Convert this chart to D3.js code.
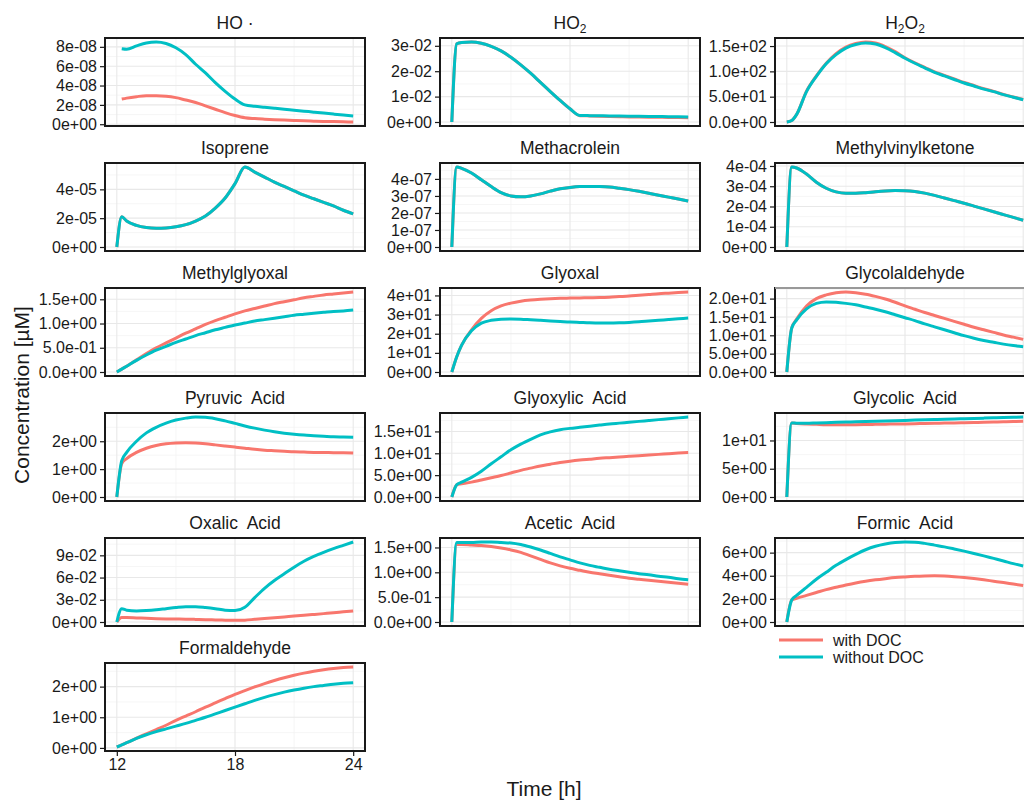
<!DOCTYPE html>
<html>
<head>
<meta charset="utf-8">
<script src="https://cdn.jsdelivr.net/npm/d3@7"></script>
<style>
  body { margin: 0; background: #fff; }
  text { font-family: "Liberation Sans", Arial, Helvetica, sans-serif; white-space: pre; }
</style>
</head>
<body>
<svg id="chart" width="1024" height="802"></svg>
<script>
// time grid [h]
const times = [12, 12.25, 12.5, 13, 13.5, 14, 14.5, 15, 15.5, 16, 16.5, 17, 17.5, 18, 18.5, 19, 19.5, 20, 20.5, 21, 21.5, 22, 22.5, 23, 23.5, 24];
const xTicks = [12, 18, 24];
const seriesNames = ["with DOC", "without DOC"];
const seriesColors = ["#F8766D", "#00BFC4"];

// values (in units of the "unit" factor of each species)
const hoWith       = [null, 2.6, 2.7, 2.85, 2.95, 2.95, 2.9, 2.75, 2.5, 2.25, 1.9, 1.55, 1.2, 0.9, 0.67, 0.58, 0.52, 0.47, 0.43, 0.39, 0.35, 0.32, 0.29, 0.27, 0.25, 0.23];
const hoWithout    = [null, 7.8, 7.75, 8.1, 8.4, 8.5, 8.35, 7.9, 7.2, 6.2, 5.3, 4.3, 3.4, 2.6, 2.0, 1.85, 1.75, 1.65, 1.55, 1.45, 1.35, 1.25, 1.15, 1.05, 0.95, 0.85];
const ho2With      = [0, 3.08, 3.13, 3.15, 3.1, 2.98, 2.8, 2.55, 2.25, 1.92, 1.56, 1.2, 0.85, 0.52, 0.25, 0.24, 0.23, 0.22, 0.21, 0.2, 0.195, 0.19, 0.185, 0.18, 0.175, 0.17];
const ho2Without   = [0, 3.08, 3.13, 3.15, 3.1, 2.98, 2.8, 2.55, 2.25, 1.92, 1.56, 1.2, 0.85, 0.52, 0.26, 0.25, 0.245, 0.24, 0.235, 0.23, 0.225, 0.22, 0.215, 0.21, 0.205, 0.2];
const h2o2With     = [0, 3, 15, 61, 91, 116, 135, 148, 155, 158, 156, 149, 139, 127, 117, 108, 99, 92, 85, 78, 72, 66, 60.5, 54.5, 49.5, 44.5];
const h2o2Without  = [0, 3, 15, 60, 90, 115, 133, 146, 153, 156, 154, 147, 137, 126, 116, 107, 98, 91, 84, 77, 71, 65, 60, 54, 49, 44];
const isopWith     = [0, 2.1, 1.8, 1.5, 1.35, 1.3, 1.32, 1.4, 1.55, 1.8, 2.15, 2.7, 3.4, 4.4, 5.55, 5.2, 4.85, 4.5, 4.2, 3.9, 3.6, 3.35, 3.1, 2.85, 2.55, 2.3];
const isopWithout  = [0, 2.1, 1.8, 1.5, 1.35, 1.3, 1.32, 1.4, 1.55, 1.8, 2.15, 2.7, 3.4, 4.4, 5.55, 5.2, 4.85, 4.5, 4.2, 3.9, 3.6, 3.35, 3.1, 2.85, 2.55, 2.3];
const macrWith     = [0, 4.7, 4.62, 4.35, 3.95, 3.55, 3.2, 3.0, 2.95, 3.0, 3.12, 3.28, 3.42, 3.5, 3.55, 3.56, 3.55, 3.52, 3.45, 3.37, 3.27, 3.16, 3.04, 2.93, 2.82, 2.7];
const macrWithout  = [0, 4.7, 4.62, 4.35, 3.95, 3.55, 3.2, 3.0, 2.95, 3.0, 3.12, 3.28, 3.42, 3.5, 3.55, 3.56, 3.55, 3.52, 3.45, 3.37, 3.27, 3.16, 3.04, 2.93, 2.82, 2.7];
const mvkWith      = [0, 3.95, 3.9, 3.6, 3.2, 2.9, 2.72, 2.65, 2.65, 2.68, 2.73, 2.77, 2.79, 2.78, 2.74, 2.66, 2.55, 2.42, 2.29, 2.16, 2.02, 1.88, 1.74, 1.6, 1.46, 1.32];
const mvkWithout   = [0, 3.95, 3.9, 3.6, 3.2, 2.9, 2.72, 2.65, 2.65, 2.68, 2.73, 2.77, 2.79, 2.78, 2.74, 2.66, 2.55, 2.42, 2.29, 2.16, 2.02, 1.88, 1.74, 1.6, 1.46, 1.32];
const mglyWith     = [0, 0.06, 0.12, 0.25, 0.38, 0.5, 0.6, 0.7, 0.8, 0.89, 0.98, 1.06, 1.13, 1.2, 1.26, 1.31, 1.36, 1.41, 1.45, 1.49, 1.53, 1.56, 1.59, 1.61, 1.63, 1.65];
const mglyWithout  = [0, 0.06, 0.12, 0.24, 0.35, 0.45, 0.53, 0.61, 0.68, 0.75, 0.81, 0.87, 0.92, 0.97, 1.01, 1.05, 1.08, 1.11, 1.14, 1.17, 1.19, 1.21, 1.23, 1.25, 1.26, 1.28];
const glyxWith     = [0, 8, 14, 22, 28, 32, 34.5, 36, 37, 37.6, 38, 38.3, 38.5, 38.6, 38.7, 38.8, 38.9, 39.1, 39.4, 39.7, 40.1, 40.5, 40.9, 41.2, 41.5, 41.8];
const glyxWithout  = [0, 8, 14, 21.5, 25.5, 27, 27.6, 27.7, 27.6, 27.3, 27.0, 26.7, 26.4, 26.1, 25.9, 25.7, 25.6, 25.6, 25.7, 25.9, 26.2, 26.6, 27.0, 27.4, 27.8, 28.2];
const glyaWith     = [0, 12.0, 14.4, 18.0, 20.0, 21.0, 21.6, 21.8, 21.6, 21.2, 20.6, 19.9, 19.0, 18.0, 17.1, 16.2, 15.4, 14.6, 13.8, 13.0, 12.2, 11.5, 10.8, 10.1, 9.5, 8.9];
const glyaWithout  = [0, 12.0, 14.2, 17.2, 18.7, 19.1, 19.0, 18.7, 18.3, 17.7, 17.1, 16.4, 15.6, 14.8, 14.0, 13.1, 12.3, 11.5, 10.7, 9.9, 9.2, 8.6, 8.1, 7.6, 7.2, 6.9];
const pyruWith     = [0, 1.2, 1.38, 1.6, 1.75, 1.85, 1.91, 1.94, 1.95, 1.94, 1.91, 1.87, 1.83, 1.79, 1.75, 1.71, 1.68, 1.66, 1.64, 1.62, 1.61, 1.6, 1.6, 1.59, 1.59, 1.58];
const pyruWithout  = [0, 1.3, 1.6, 2.0, 2.3, 2.5, 2.65, 2.76, 2.83, 2.87, 2.86, 2.81, 2.73, 2.64, 2.55, 2.47, 2.4, 2.34, 2.29, 2.25, 2.22, 2.2, 2.18, 2.16, 2.15, 2.14];
const gxylWith     = [0, 2.8, 3.0, 3.4, 3.9, 4.4, 4.9, 5.5, 6.1, 6.6, 7.1, 7.5, 7.9, 8.2, 8.45, 8.65, 8.85, 9.0, 9.15, 9.3, 9.45, 9.6, 9.75, 9.9, 10.05, 10.2];
const gxylWithout  = [0, 2.8, 3.4, 4.5, 5.9, 7.6, 9.2, 10.8, 12.1, 13.2, 14.2, 14.9, 15.4, 15.7, 15.95, 16.2, 16.45, 16.7, 16.9, 17.1, 17.3, 17.5, 17.7, 17.9, 18.1, 18.3];
const gcolWith     = [0, 13.1, 13.0, 12.9, 12.85, 12.8, 12.8, 12.8, 12.8, 12.82, 12.85, 12.88, 12.9, 12.93, 12.96, 13.0, 13.03, 13.07, 13.1, 13.14, 13.18, 13.22, 13.26, 13.3, 13.35, 13.4];
const gcolWithout  = [0, 13.1, 13.05, 13.05, 13.1, 13.15, 13.2, 13.25, 13.3, 13.35, 13.4, 13.45, 13.5, 13.55, 13.6, 13.65, 13.7, 13.75, 13.8, 13.85, 13.9, 13.95, 14.0, 14.05, 14.1, 14.15];
const oxalWith     = [0, 0.6, 0.6, 0.55, 0.5, 0.45, 0.42, 0.4, 0.38, 0.35, 0.32, 0.28, 0.25, 0.22, 0.25, 0.36, 0.47, 0.58, 0.69, 0.8, 0.91, 1.02, 1.13, 1.24, 1.37, 1.5];
const oxalWithout  = [0, 1.8, 1.6, 1.5, 1.55, 1.65, 1.8, 1.95, 2.05, 2.05, 1.95, 1.8, 1.6, 1.55, 2.0, 3.3, 4.55, 5.6, 6.5, 7.4, 8.2, 8.85, 9.4, 9.9, 10.35, 10.8];
const acetWith     = [0, 1.56, 1.56, 1.55, 1.54, 1.52, 1.49, 1.45, 1.4, 1.33, 1.26, 1.19, 1.13, 1.08, 1.04, 1.0, 0.97, 0.94, 0.91, 0.88, 0.86, 0.84, 0.82, 0.8, 0.78, 0.76];
const acetWithout  = [0, 1.6, 1.6, 1.6, 1.61, 1.61, 1.6, 1.59, 1.56, 1.51, 1.45, 1.38, 1.31, 1.25, 1.19, 1.14, 1.1, 1.06, 1.03, 1.0, 0.97, 0.95, 0.92, 0.9, 0.87, 0.85];
const formWith     = [0, 1.9, 2.05, 2.3, 2.55, 2.8, 3.0, 3.2, 3.38, 3.53, 3.65, 3.75, 3.84, 3.9, 3.95, 3.98, 3.99, 3.97, 3.92, 3.85, 3.76, 3.65, 3.53, 3.41, 3.28, 3.15];
const formWithout  = [0, 1.9, 2.3, 3.0, 3.7, 4.3, 4.9, 5.4, 5.85, 6.25, 6.55, 6.75, 6.88, 6.92, 6.9, 6.8, 6.65, 6.5, 6.32, 6.13, 5.93, 5.72, 5.5, 5.28, 5.05, 4.85];
const hchoWith     = [0.03, 0.1, 0.17, 0.32, 0.46, 0.6, 0.74, 0.9, 1.04, 1.18, 1.33, 1.47, 1.61, 1.75, 1.87, 1.99, 2.1, 2.2, 2.29, 2.37, 2.44, 2.5, 2.55, 2.59, 2.62, 2.64];
const hchoWithout  = [0.03, 0.1, 0.17, 0.31, 0.43, 0.53, 0.62, 0.71, 0.8, 0.9, 1.0, 1.11, 1.22, 1.33, 1.44, 1.55, 1.65, 1.74, 1.82, 1.89, 1.95, 2.0, 2.04, 2.08, 2.11, 2.13];

// y tick labels of each panel
const hoTicks   = ["0e+00", "2e-08", "4e-08", "6e-08", "8e-08"];
const ho2Ticks  = ["0e+00", "1e-02", "2e-02", "3e-02"];
const h2o2Ticks = ["0.0e+00", "5.0e+01", "1.0e+02", "1.5e+02"];
const isopTicks = ["0e+00", "2e-05", "4e-05"];
const macrTicks = ["0e+00", "1e-07", "2e-07", "3e-07", "4e-07"];
const mvkTicks  = ["0e+00", "1e-04", "2e-04", "3e-04", "4e-04"];
const mglyTicks = ["0.0e+00", "5.0e-01", "1.0e+00", "1.5e+00"];
const glyxTicks = ["0e+00", "1e+01", "2e+01", "3e+01", "4e+01"];
const glyaTicks = ["0.0e+00", "5.0e+00", "1.0e+01", "1.5e+01", "2.0e+01"];
const pyruTicks = ["0e+00", "1e+00", "2e+00"];
const gxylTicks = ["0.0e+00", "5.0e+00", "1.0e+01", "1.5e+01"];
const gcolTicks = ["0e+00", "5e+00", "1e+01"];
const oxalTicks = ["0e+00", "3e-02", "6e-02", "9e-02"];
const acetTicks = ["0.0e+00", "5.0e-01", "1.0e+00", "1.5e+00"];
const formTicks = ["0e+00", "2e+00", "4e+00", "6e+00"];
const hchoTicks = ["0e+00", "1e+00", "2e+00"];

// facet table ("_2" marks a subscript)
const species = [
    { title: "HO ·",              unit: 1e-8, w: hoWith,   wo: hoWithout,   ticks: hoTicks },
    { title: "HO_2",              unit: 1e-2, w: ho2With,  wo: ho2Without,  ticks: ho2Ticks },
    { title: "H_2O_2",            unit: 1,    w: h2o2With, wo: h2o2Without, ticks: h2o2Ticks },
    { title: "Isoprene",          unit: 1e-5, w: isopWith, wo: isopWithout, ticks: isopTicks },
    { title: "Methacrolein",      unit: 1e-7, w: macrWith, wo: macrWithout, ticks: macrTicks },
    { title: "Methylvinylketone", unit: 1e-4, w: mvkWith,  wo: mvkWithout,  ticks: mvkTicks },
    { title: "Methylglyoxal",     unit: 1,    w: mglyWith, wo: mglyWithout, ticks: mglyTicks },
    { title: "Glyoxal",           unit: 1,    w: glyxWith, wo: glyxWithout, ticks: glyxTicks },
    { title: "Glycolaldehyde",    unit: 1,    w: glyaWith, wo: glyaWithout, ticks: glyaTicks },
    { title: "Pyruvic  Acid",     unit: 1,    w: pyruWith, wo: pyruWithout, ticks: pyruTicks },
    { title: "Glyoxylic  Acid",   unit: 1,    w: gxylWith, wo: gxylWithout, ticks: gxylTicks },
    { title: "Glycolic  Acid",    unit: 1,    w: gcolWith, wo: gcolWithout, ticks: gcolTicks },
    { title: "Oxalic  Acid",      unit: 1e-2, w: oxalWith, wo: oxalWithout, ticks: oxalTicks },
    { title: "Acetic  Acid",      unit: 1,    w: acetWith, wo: acetWithout, ticks: acetTicks },
    { title: "Formic  Acid",      unit: 1,    w: formWith, wo: formWithout, ticks: formTicks },
    { title: "Formaldehyde",      unit: 1,    w: hchoWith, wo: hchoWithout, ticks: hchoTicks }
];

// layout
const colLeft = [105, 440, 775];
const rowTop = [38, 163, 288, 413, 538, 663];
const pw = 260, ph = 88;
const ink = "#1a1a1a";

const svg = d3.select("#chart");

const x = d3.scaleLinear().domain([11.4, 24.6]).range([0, pw]);

const line = d3.line()
    .defined(d => d.v != null)
    .x(d => x(d.t))
    .y(d => d.y)
    .curve(d3.curveMonotoneX);

species.forEach((sp, i) => {
    const col = i % 3, row = Math.floor(i / 3);
    const g = svg.append("g").attr("transform", `translate(${colLeft[col]},${rowTop[row]})`);

    const seriesVals = [sp.w, sp.wo].map(arr => arr.map((v, k) => ({ t: times[k], v: v == null ? null : v * sp.unit })));
    const all = seriesVals.flat().filter(d => d.v != null).map(d => d.v);
    const lo = d3.min(all), hi = d3.max(all), pad = (hi - lo) * 0.05;
    const y = d3.scaleLinear().domain([lo - pad, hi + pad]).range([ph, 0]);

    const major = sp.ticks.map(s => +s);
    const step = major[1] - major[0];
    const minor = [];
    for (let k = -1; k < major.length; k++) {
        const m = major[0] + (k + 0.5) * step;
        if (m >= y.domain()[0] && m <= y.domain()[1]) minor.push(m);
    }

    // grid
    g.append("rect").attr("width", pw).attr("height", ph).attr("fill", "#fff");
    g.selectAll(".ymin").data(minor).enter().append("line")
        .attr("x1", 0).attr("x2", pw).attr("y1", d => y(d)).attr("y2", d => y(d))
        .attr("stroke", "#f4f4f4").attr("stroke-width", 0.8);
    g.selectAll(".xmin").data([15, 21]).enter().append("line")
        .attr("y1", 0).attr("y2", ph).attr("x1", d => x(d)).attr("x2", d => x(d))
        .attr("stroke", "#f4f4f4").attr("stroke-width", 0.8);
    g.selectAll(".ymaj").data(major).enter().append("line")
        .attr("x1", 0).attr("x2", pw).attr("y1", d => y(d)).attr("y2", d => y(d))
        .attr("stroke", "#e8e8e8").attr("stroke-width", 1.1);
    g.selectAll(".xmaj").data(xTicks).enter().append("line")
        .attr("y1", 0).attr("y2", ph).attr("x1", d => x(d)).attr("x2", d => x(d))
        .attr("stroke", "#e8e8e8").attr("stroke-width", 1.1);

    // lines
    seriesVals.forEach((vals, s) => {
        g.append("path")
            .datum(vals.map(d => ({ t: d.t, v: d.v, y: d.v == null ? 0 : y(d.v) })))
            .attr("d", line)
            .attr("fill", "none")
            .attr("stroke", seriesColors[s])
            .attr("stroke-width", 3)
            .attr("stroke-linejoin", "round");
    });

    // border
    g.append("rect").attr("width", pw).attr("height", ph)
        .attr("fill", "none").attr("stroke", ink).attr("stroke-width", 2);
    if (sp.title === "Glycolaldehyde") {
        g.append("line").attr("x1", 0).attr("x2", pw).attr("y1", 0).attr("y2", 0)
            .attr("stroke", "#999").attr("stroke-width", 2);
    }

    // y axis
    const yAxis = g.append("g").call(d3.axisLeft(y).tickValues(major).tickSize(5).tickPadding(3).tickFormat((d, k) => sp.ticks[k]));
    yAxis.select(".domain").remove();
    yAxis.selectAll("line").attr("stroke", ink).attr("stroke-width", 1.2);
    yAxis.selectAll("text").attr("fill", ink).style("font-size", "16px")
        .style("font-family", '"Liberation Sans", Arial, sans-serif');

    // bottom axis only for the last panel of the first column
    if (i === species.length - 1) {
        const xAxis = g.append("g").attr("transform", `translate(0,${ph})`)
            .call(d3.axisBottom(x).tickValues(xTicks).tickSize(5).tickPadding(3));
        xAxis.select(".domain").remove();
        xAxis.selectAll("line").attr("stroke", ink).attr("stroke-width", 1.2);
        xAxis.selectAll("text").attr("fill", ink).style("font-size", "16px")
            .style("font-family", '"Liberation Sans", Arial, sans-serif');
    }

    // strip title, with subscripts
    const title = g.append("text").attr("x", pw / 2).attr("y", -9)
        .attr("text-anchor", "middle").attr("fill", ink).style("font-size", "17.5px");
    sp.title.split(/_(\d)/).forEach((part, k) => {
        if (!part) return;
        const ts = title.append("tspan").text(part);
        if (k % 2 === 1) ts.attr("baseline-shift", "-4").style("font-size", "12px");
    });
});

// axis titles
svg.append("text").attr("x", colLeft[1] + pw / 2 - 26).attr("y", 796)
    .attr("text-anchor", "middle").attr("fill", ink).style("font-size", "21px").text("Time [h]");
svg.append("text").attr("transform", "translate(29,395) rotate(-90)")
    .attr("text-anchor", "middle").attr("fill", ink).style("font-size", "21px").text("Concentration [\u00b5M]");

// legend
const legend = svg.append("g").attr("transform", `translate(${colLeft[2] + 4},640)`);
seriesNames.forEach((name, s) => {
    const lg = legend.append("g").attr("transform", `translate(0,${s * 17})`);
    lg.append("line").attr("x1", 0).attr("x2", 44).attr("stroke", seriesColors[s]).attr("stroke-width", 3);
    lg.append("text").attr("x", 54).attr("y", 6).attr("fill", ink).style("font-size", "16px").text(name);
});
</script>
</body>
</html>
